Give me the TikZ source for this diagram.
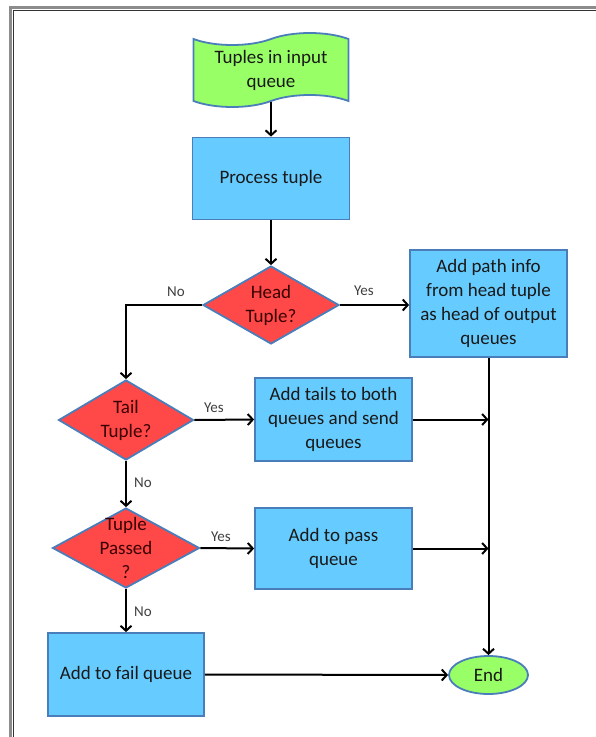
\documentclass[tikz,border=0pt]{standalone}
\usepackage{fontspec}
\setmainfont{Carlito}
\usetikzlibrary{arrows.meta, shapes.geometric, shapes.symbols, calc}

\definecolor{boxblue}{HTML}{66CCFF}
\definecolor{decred}{HTML}{FF4848}
\definecolor{termgreen}{HTML}{99FF66}
\definecolor{edgeblue}{HTML}{4A7EBB}
\definecolor{dectext}{HTML}{3A0000}

\begin{document}
\begin{tikzpicture}[x=1pt, y=-1pt,
    base/.style={draw=edgeblue, line width=1.8pt, align=center, font=\fontsize{19}{24}\selectfont, text=black!90},
    process/.style={base, rectangle, fill=boxblue, minimum width=157pt, minimum height=82pt, inner sep=2pt},
    decision/.style={base, diamond, fill=decred, inner sep=0pt},
    dectxt/.style={align=center, font=\fontsize{19}{24}\selectfont, text=dectext},
    terminal/.style={base, ellipse, fill=termgreen, inner sep=0pt},
    flow/.style={draw=black, line width=2pt, -{Straight Barb[length=5pt,width=11pt]}},
    ans/.style={font=\fontsize{15}{18}\selectfont, text=black!75}]
        % Page and frame
        \fill[white] (0,0) rectangle (596,737);
        \useasboundingbox (0,0) rectangle (596,737);
        \draw[black!45, line width=2.5pt] (10.5,737) -- (10.5,7.5) -- (596,7.5);
        \draw[black!80, line width=0.8pt] (13.5,737) -- (13.5,10.5) -- (596,10.5);

        % Start
        \node[base, tape, fill=termgreen, minimum width=155pt, minimum height=74pt, tape bend height=12pt] (input) at (271,70) {Tuples in input\\queue};
        \node[process] (proc) at (271,178.5) {Process tuple};

        % Head tuple check
        \node[decision, minimum width=136pt, minimum height=78pt, label={[dectxt]center:Head\\Tuple?}] (head) at (271,305) {};
        \node[process, minimum height=107pt] (pathinfo) at (488.5,303.5) {Add path info\\from head tuple\\as head of output\\queues};

        % Tail tuple check
        \node[decision, minimum width=135pt, minimum height=80pt, label={[dectxt]center:Tail\\Tuple?}] (tail) at (126,420) {};
        \node[process, minimum height=83pt] (tails) at (333.5,419.5) {Add tails to both\\queues and send\\queues};

        % Pass check
        \node[decision, minimum width=147pt, minimum height=80pt, label={[dectxt]center:Tuple\\Passed\\?}] (passed) at (126,548) {};
        \node[process, minimum height=81pt] (pass) at (333.5,548.5) {Add to pass\\queue};
        \node[process, minimum width=156pt, minimum height=83pt] (fail) at (126,674.5) {Add to fail queue};

        % End
        \node[terminal, minimum width=79pt, minimum height=38pt] (end) at (488.5,675) {End};

        % Connectors
        \draw[flow] (input.south) -- (proc.north);
        \draw[flow] (proc.south) -- (head.north);
        \draw[flow] (head.west) -- (tail.north |- head.west) -- (tail.north);
        \node[ans] (no1) at (176,292) {No};
        \draw[flow] (head.east) -- (head.east -| pathinfo.west);
        \node[ans] (yes1) at (364,291) {Yes};
        \draw[flow] (tail.east) -- (tails.west);
        \node[ans] (yes2) at (214,408) {Yes};
        \draw[flow] (tail.south) -- (passed.north);
        \node[ans] (no2) at (143,483) {No};
        \draw[flow] (passed.east) -- (pass.west);
        \node[ans] (yes3) at (221,537) {Yes};
        \draw[flow] (passed.south) -- (fail.north);
        \node[ans] (no3) at (143,612) {No};
        \draw[flow] (fail.east) -- (end.west);
        \draw[flow] (pathinfo.south) -- (end.north);
        \coordinate (join1) at (pathinfo.south |- tails.east);
        \coordinate (join2) at (pathinfo.south |- pass.east);
        \draw[flow] (tails.east) -- (join1);
        \draw[flow] (pass.east) -- (join2);
\end{tikzpicture}
\end{document}
